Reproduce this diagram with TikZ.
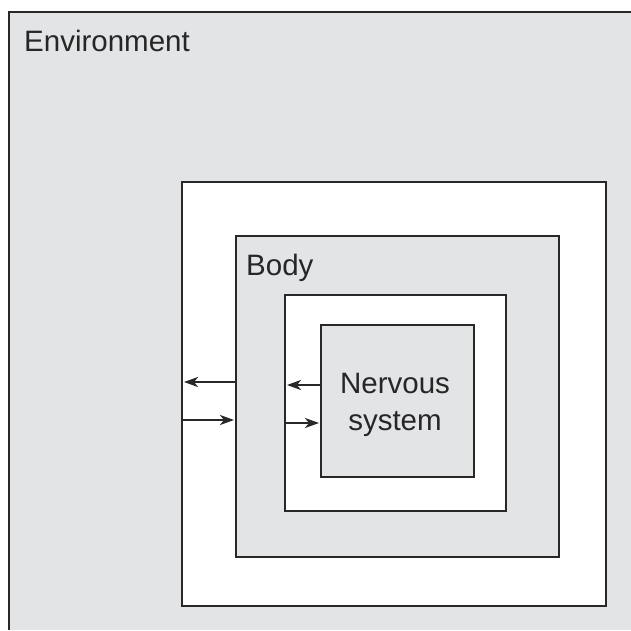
\documentclass[tikz,border=0pt]{standalone}
\usepackage{fontspec}
\setmainfont{Liberation Sans}
\usetikzlibrary{arrows.meta, positioning}
\definecolor{envgray}{RGB}{227,228,230}
\definecolor{edgegray}{RGB}{40,40,40}

\begin{document}
\begin{tikzpicture}[
    x=1pt, y=-1pt,
    box/.style={draw=edgegray, line width=2.9pt, inner sep=0pt, outer sep=0pt, minimum width=#1, minimum height=#1},
    graybox/.style={box=#1, fill=envgray},
    whitebox/.style={box=#1, fill=white},
    flow/.style={-{Stealth[length=14pt, width=10pt, inset=4pt]}, line width=2.4pt, edgegray, shorten >=2pt},
    lbl/.style={font=\fontsize{29.5}{37}\selectfont, text=black!85, inner sep=0pt}
]
    \useasboundingbox (0,0) rectangle (631,630);

    % Environment (open on the right and bottom)
    \fill[envgray] (9,12) rectangle (631,630);
    \draw[edgegray, line width=2.6pt] (9,630) -- (9,12) -- (631,12);
    \node[lbl, anchor=west] (envlabel) at (24,41) {Environment};

    % Nested boxes
    \node[whitebox=424pt] (outer) at (394,394) {};
    \node[graybox=323pt, minimum height=321pt] (body) at (397.5,396.5) {};
    \node[whitebox=221pt, minimum height=216pt] (inner) at (395.5,403) {};
    \node[graybox=153pt, minimum height=152pt] (nervous) at (397.5,401) {};

    % Labels
    \node[lbl, anchor=west] (bodylabel) at (246,268) {Body};
    \node[lbl, align=center] (nslabel) at (395,405) {Nervous\\system};

    % Exchange arrows
    \draw[flow] (body.west |- 0,382) -- (outer.west |- 0,382);
    \draw[flow] (outer.west |- 0,420) -- (body.west |- 0,420);
    \draw[flow] (nervous.west |- 0,385) -- (inner.west |- 0,385);
    \draw[flow] (inner.west |- 0,423) -- (nervous.west |- 0,423);
\end{tikzpicture}
\end{document}
